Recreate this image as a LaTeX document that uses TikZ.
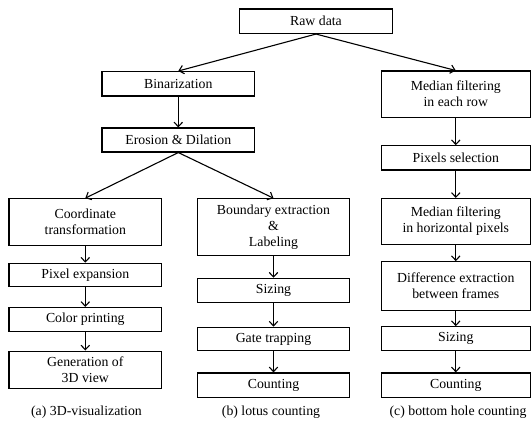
\documentclass[tikz,border=0pt]{standalone}
\usepackage{fontspec}
\setmainfont{Liberation Serif}
\usetikzlibrary{arrows.meta}
\begin{document}
\begin{tikzpicture}[x=1pt,y=-1pt,
  box/.style={draw, line width=1.1pt, align=center, inner sep=0pt,
    font=\rmfamily\fontsize{13.8}{16}\selectfont},
  wa/.style={minimum width=152.6pt},
  wc/.style={minimum width=149.2pt},
  arr/.style={line width=1.1pt, -{Straight Barb[length=4.5pt,width=8.5pt,line width=1.1pt]}},
  captext/.style={font=\rmfamily\fontsize{13.8}{16}\selectfont, inner sep=0pt}]
\useasboundingbox (0,0) rectangle (531,428);
\node[box, wa, minimum height=24.5pt] (raw) at (316,21.25) {Raw data};
\node[box, wa, minimum height=24.5pt] (bin) at (178.3,83.8) {Binarization};
\node[box, wc, minimum height=46.3pt] (med1) at (455.8,94.2) {Median filtering\\in each row};
\node[box, wa, minimum height=24pt] (ero) at (178.3,140) {Erosion \& Dilation};
\node[box, wc, minimum height=24.3pt] (pix) at (455.8,157.9) {Pixels selection};
\node[box, wa, minimum height=46.6pt] (coord) at (85.3,222) {Coordinate\\transformation};
\node[box, wa, minimum height=56.3pt] (bound) at (273.5,226.9) {Boundary extraction\\\&\\Labeling};
\node[box, wc, minimum height=46pt] (med2) at (455.8,221.5) {Median filtering\\in horizontal pixels};
\node[box, wa, minimum height=23.5pt] (pexp) at (85.3,275) {Pixel expansion};
\node[box, wa, minimum height=24pt] (sizb) at (273.5,290.3) {Sizing};
\node[box, wc, minimum height=49pt] (diff) at (455.8,286.2) {Difference extraction\\between frames};
\node[box, wa, minimum height=24.2pt] (color) at (85.3,319.6) {Color printing};
\node[box, wa, minimum height=23.6pt] (gate) at (273.5,339) {Gate trapping};
\node[box, wc, minimum height=24pt] (sizc) at (455.8,338.7) {Sizing};
\node[box, wa, minimum height=37.7pt] (gen) at (85.3,369.9) {Generation of\\3D view};
\node[box, wa, minimum height=24.3pt] (cntb) at (273.5,385.1) {Counting};
\node[box, wc, minimum height=24.3pt] (cntc) at (455.8,385.1) {Counting};
\node[captext] (capa) at (86.5,412) {(a) 3D-visualization};
\node[captext] (capb) at (271,412) {(b) lotus counting};
\node[captext] (capc) at (458,412) {(c) bottom hole counting};
\draw[arr] (raw.south) -- (bin.north);
\draw[arr] (raw.south) -- (med1.north);
\draw[arr] (bin.south) -- (ero.north);
\draw[arr] (ero.south) -- (coord.north);
\draw[arr] (ero.south) -- (bound.north);
\draw[arr] (coord) -- (pexp);
\draw[arr] (pexp) -- (color);
\draw[arr] (color) -- (gen);
\draw[arr] (bound) -- (sizb);
\draw[arr] (sizb) -- (gate);
\draw[arr] (gate) -- (cntb);
\draw[arr] (med1) -- (pix);
\draw[arr] (pix) -- (med2);
\draw[arr] (med2) -- (diff);
\draw[arr] (diff) -- (sizc);
\draw[arr] (sizc) -- (cntc);
\end{tikzpicture}
\end{document}
